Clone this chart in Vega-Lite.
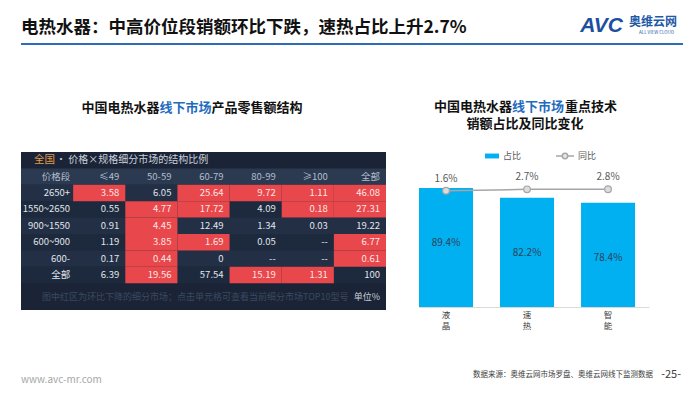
{
  "$schema": "https://vega.github.io/schema/vega-lite/v6.json",
  "background": "white",
  "padding": {"left": 20, "top": 14, "right": 0, "bottom": 0},
  "config": {
    "font": "Noto Sans CJK SC",
    "view": {"stroke": null},
    "legend": {"labelFont": "Noto Sans CJK SC", "labelFontSize": 9, "labelColor": "#595959"}
  },
  "datasets": {
    "rows": [
      {"row": "title"}, {"row": "header"}, {"row": "2650+"}, {"row": "1550~2650"},
      {"row": "900~1550"}, {"row": "600~900"}, {"row": "600-"}, {"row": "全部"}
    ],
    "cells": [
      {"row": "header", "col": "价格段", "value": "价格段", "down": false},
      {"row": "header", "col": "≤49", "value": "≤49", "down": false},
      {"row": "header", "col": "50-59", "value": "50-59", "down": false},
      {"row": "header", "col": "60-79", "value": "60-79", "down": false},
      {"row": "header", "col": "80-99", "value": "80-99", "down": false},
      {"row": "header", "col": "≥100", "value": "≥100", "down": false},
      {"row": "header", "col": "全部", "value": "全部", "down": false},
      {"row": "2650+", "col": "价格段", "value": "2650+", "down": false},
      {"row": "2650+", "col": "≤49", "value": "3.58", "down": true},
      {"row": "2650+", "col": "50-59", "value": "6.05", "down": false},
      {"row": "2650+", "col": "60-79", "value": "25.64", "down": true},
      {"row": "2650+", "col": "80-99", "value": "9.72", "down": true},
      {"row": "2650+", "col": "≥100", "value": "1.11", "down": true},
      {"row": "2650+", "col": "全部", "value": "46.08", "down": true},
      {"row": "1550~2650", "col": "价格段", "value": "1550~2650", "down": false},
      {"row": "1550~2650", "col": "≤49", "value": "0.55", "down": false},
      {"row": "1550~2650", "col": "50-59", "value": "4.77", "down": true},
      {"row": "1550~2650", "col": "60-79", "value": "17.72", "down": true},
      {"row": "1550~2650", "col": "80-99", "value": "4.09", "down": false},
      {"row": "1550~2650", "col": "≥100", "value": "0.18", "down": true},
      {"row": "1550~2650", "col": "全部", "value": "27.31", "down": true},
      {"row": "900~1550", "col": "价格段", "value": "900~1550", "down": false},
      {"row": "900~1550", "col": "≤49", "value": "0.91", "down": false},
      {"row": "900~1550", "col": "50-59", "value": "4.45", "down": true},
      {"row": "900~1550", "col": "60-79", "value": "12.49", "down": false},
      {"row": "900~1550", "col": "80-99", "value": "1.34", "down": false},
      {"row": "900~1550", "col": "≥100", "value": "0.03", "down": false},
      {"row": "900~1550", "col": "全部", "value": "19.22", "down": false},
      {"row": "600~900", "col": "价格段", "value": "600~900", "down": false},
      {"row": "600~900", "col": "≤49", "value": "1.19", "down": false},
      {"row": "600~900", "col": "50-59", "value": "3.85", "down": true},
      {"row": "600~900", "col": "60-79", "value": "1.69", "down": true},
      {"row": "600~900", "col": "80-99", "value": "0.05", "down": false},
      {"row": "600~900", "col": "≥100", "value": "--", "down": false},
      {"row": "600~900", "col": "全部", "value": "6.77", "down": true},
      {"row": "600-", "col": "价格段", "value": "600-", "down": false},
      {"row": "600-", "col": "≤49", "value": "0.17", "down": false},
      {"row": "600-", "col": "50-59", "value": "0.44", "down": true},
      {"row": "600-", "col": "60-79", "value": "0", "down": false},
      {"row": "600-", "col": "80-99", "value": "--", "down": false},
      {"row": "600-", "col": "≥100", "value": "--", "down": false},
      {"row": "600-", "col": "全部", "value": "0.61", "down": true},
      {"row": "全部", "col": "价格段", "value": "全部", "down": false},
      {"row": "全部", "col": "≤49", "value": "6.39", "down": false},
      {"row": "全部", "col": "50-59", "value": "19.56", "down": true},
      {"row": "全部", "col": "60-79", "value": "57.54", "down": false},
      {"row": "全部", "col": "80-99", "value": "15.19", "down": true},
      {"row": "全部", "col": "≥100", "value": "1.31", "down": true},
      {"row": "全部", "col": "全部", "value": "100", "down": false}
    ],
    "tech": [
      {"技术": "液晶", "占比": 0.894, "同比": 0.016},
      {"技术": "速热", "占比": 0.822, "同比": 0.027},
      {"技术": "智能", "占比": 0.784, "同比": 0.028}
    ]
  },
  "resolve": {"scale": {"fill": "independent", "stroke": "independent", "color": "independent"}, "legend": {"fill": "independent", "stroke": "independent", "color": "independent"}},
  "spacing": 39,
  "vconcat": [
    {
      "spacing": 55,
      "resolve": {"scale": {"fill": "independent", "stroke": "independent", "color": "independent"}, "legend": {"fill": "independent", "stroke": "independent", "color": "independent"}},
      "vconcat": [
        {
          "width": 662,
          "height": 30,
          "data": {"values": [{}]},
          "layer": [
            {
              "mark": {"type": "rule", "color": "#2e6db4", "strokeWidth": 2},
              "encoding": {
                "x": {"datum": 0, "type": "quantitative", "scale": {"domain": [0, 1]}, "axis": null},
                "x2": {"datum": 1},
                "y": {"datum": 0, "type": "quantitative", "scale": {"domain": [0, 1]}, "axis": null}
              }
            },
            {
              "mark": {"type": "text", "align": "left", "baseline": "middle", "fontSize": 17.5, "fontWeight": "bold", "color": "#111111"},
              "encoding": {
                "x": {"datum": 0, "type": "quantitative"},
                "y": {"datum": 0.53, "type": "quantitative"},
                "text": {"value": "电热水器：中高价位段销额环比下跌，速热占比上升2.7%"}
              }
            },
            {
              "mark": {"type": "text", "align": "right", "baseline": "middle", "fontSize": 21, "fontWeight": "bold", "fontStyle": "italic", "font": "Liberation Sans", "color": "#1c4f9d", "dx": -60},
              "encoding": {
                "x": {"datum": 1, "type": "quantitative"},
                "y": {"datum": 0.6, "type": "quantitative"},
                "text": {"value": "AVC"}
              }
            },
            {
              "mark": {"type": "text", "align": "right", "baseline": "middle", "fontSize": 12, "fontWeight": "bold", "color": "#1e5aa6", "dx": -6},
              "encoding": {
                "x": {"datum": 1, "type": "quantitative"},
                "y": {"datum": 0.75, "type": "quantitative"},
                "text": {"value": "奥维云网"}
              }
            },
            {
              "mark": {"type": "text", "align": "right", "baseline": "middle", "fontSize": 4.5, "color": "#1e5aa6", "dx": -9},
              "encoding": {
                "x": {"datum": 1, "type": "quantitative"},
                "y": {"datum": 0.38, "type": "quantitative"},
                "text": {"value": "ALL VIEW CLOUD"}
              }
            }
          ]
        },
        {
          "spacing": 32,
          "resolve": {"scale": {"fill": "independent", "stroke": "independent", "color": "independent"}, "legend": {"fill": "independent", "stroke": "independent", "color": "independent"}},
          "hconcat": [
            {
              "spacing": 22,
              "vconcat": [
                {
                  "width": 365,
                  "height": 30,
                  "data": {"values": [{}]},
                  "encoding": {"x": {"datum": 0.5, "type": "quantitative", "scale": {"domain": [0, 1]}, "axis": null}},
                  "layer": [
                    {"mark": {"type": "text", "align": "right", "baseline": "middle", "fontSize": 13, "fontWeight": "bold", "color": "#111111", "dx": -44, "dy": -7}, "encoding": {"text": {"value": "中国电热水器"}}},
                    {"mark": {"type": "text", "align": "left", "baseline": "middle", "fontSize": 13, "fontWeight": "bold", "color": "#1f6cbf", "dx": -44, "dy": -7}, "encoding": {"text": {"value": "线下市场"}}},
                    {"mark": {"type": "text", "align": "left", "baseline": "middle", "fontSize": 13, "fontWeight": "bold", "color": "#111111", "dx": 8, "dy": -7}, "encoding": {"text": {"value": "产品零售额结构"}}}
                  ]
                },
                {
                  "width": 365,
                  "height": 158,
                  "view": {"fill": "#1b2436"},
                  "data": {"name": "cells"},
                  "encoding": {
                    "y": {
                      "field": "row", "type": "nominal", "axis": null,
                      "scale": {"type": "band", "domain": ["title", "header", "2650+", "1550~2650", "900~1550", "600~900", "600-", "全部"], "paddingInner": 0, "paddingOuter": 0.817, "align": 0}
                    }
                  },
                  "layer": [
                    {
                      "data": {"name": "rows"},
                      "mark": {"type": "rect"},
                      "encoding": {
                        "fill": {
                          "condition": [
                            {"test": "datum.row === 'title'", "value": "#1b2436"},
                            {"test": "datum.row === 'header'", "value": "#2b3a51"},
                            {"test": "indexof(['2650+', '900~1550', '600-'], datum.row) >= 0", "value": "#222f44"}
                          ],
                          "value": "#1d293c"
                        }
                      }
                    },
                    {
                      "transform": [{"filter": "datum.down"}],
                      "mark": {"type": "rect", "color": "#e8474b"},
                      "encoding": {
                        "x": {"field": "col", "type": "nominal", "axis": null, "scale": {"type": "band", "domain": ["价格段", "≤49", "50-59", "60-79", "80-99", "≥100", "全部"], "paddingInner": 0, "paddingOuter": 0}}
                      }
                    },
                    {
                      "transform": [{"filter": "datum.col !== '价格段'"}],
                      "mark": {"type": "text", "align": "right", "baseline": "middle", "fontSize": 9.5, "dx": -6},
                      "encoding": {
                        "x": {"field": "col", "type": "nominal", "bandPosition": 1},
                        "text": {"field": "value", "type": "nominal"},
                        "color": {
                          "condition": [
                            {"test": "datum.down", "value": "#fde6e6"},
                            {"test": "datum.row === 'header'", "value": "#b3bdcb"}
                          ],
                          "value": "#e1e6ec"
                        }
                      }
                    },
                    {
                      "transform": [{"filter": "datum.col === '价格段'"}],
                      "mark": {"type": "text", "align": "right", "baseline": "middle", "fontSize": 9.5, "dx": -3},
                      "encoding": {
                        "x": {"field": "col", "type": "nominal", "bandPosition": 1},
                        "text": {"field": "value", "type": "nominal"},
                        "color": {
                          "condition": {"test": "datum.row === 'header'", "value": "#b3bdcb"},
                          "value": "#e1e6ec"
                        }
                      }
                    },
                    {
                      "data": {"values": [{"row": "title"}]},
                      "mark": {"type": "text", "align": "left", "baseline": "middle", "fontSize": 10.5, "color": "#e39a48", "dx": 13},
                      "encoding": {
                        "x": {"datum": "价格段", "type": "nominal", "bandPosition": 0},
                        "text": {"value": "全国"}
                      }
                    },
                    {
                      "data": {"values": [{"row": "title"}]},
                      "mark": {"type": "text", "align": "left", "baseline": "middle", "fontSize": 10, "color": "#c9d1dc", "dx": 35},
                      "encoding": {
                        "x": {"datum": "价格段", "type": "nominal", "bandPosition": 0},
                        "text": {"value": "• 价格×规格细分市场的结构比例"}
                      }
                    },
                    {
                      "data": {"values": [{"row": "全部"}]},
                      "mark": {"type": "text", "align": "left", "baseline": "middle", "fontSize": 9, "color": "#3a4961", "dx": 21, "dy": 22},
                      "encoding": {
                        "x": {"datum": "价格段", "type": "nominal", "bandPosition": 0},
                        "text": {"value": "图中红区为环比下降的细分市场；点击单元格可查看当前细分市场TOP10型号"}
                      }
                    },
                    {
                      "data": {"values": [{"row": "全部"}]},
                      "mark": {"type": "text", "align": "right", "baseline": "middle", "fontSize": 9, "color": "#c6cdd8", "dx": -6, "dy": 22},
                      "encoding": {
                        "x": {"datum": "全部", "type": "nominal", "bandPosition": 1},
                        "text": {"value": "单位%"}
                      }
                    }
                  ]
                }
              ]
            },
            {
              "spacing": 15,
              "resolve": {"scale": {"fill": "independent", "stroke": "independent", "color": "independent"}, "legend": {"fill": "independent", "stroke": "independent", "color": "independent"}},
              "vconcat": [
                {
                  "width": 230,
                  "height": 30,
                  "data": {"values": [{}]},
                  "encoding": {"x": {"datum": 0.5, "type": "quantitative", "scale": {"domain": [0, 1]}, "axis": null}},
                  "layer": [
                    {"mark": {"type": "text", "align": "right", "baseline": "middle", "fontSize": 13, "fontWeight": "bold", "color": "#111111", "dx": -22, "dy": -8.5}, "encoding": {"text": {"value": "中国电热水器"}}},
                    {"mark": {"type": "text", "align": "left", "baseline": "middle", "fontSize": 13, "fontWeight": "bold", "color": "#1f6cbf", "dx": -22, "dy": -8.5}, "encoding": {"text": {"value": "线下市场"}}},
                    {"mark": {"type": "text", "align": "left", "baseline": "middle", "fontSize": 13, "fontWeight": "bold", "color": "#111111", "dx": 31, "dy": -8.5}, "encoding": {"text": {"value": "重点技术"}}},
                    {"mark": {"type": "text", "align": "center", "baseline": "middle", "fontSize": 13, "fontWeight": "bold", "color": "#111111", "dx": -9, "dy": 9}, "encoding": {"text": {"value": "销额占比及同比变化"}}}
                  ]
                },
                {
                  "width": 230,
                  "height": 133,
                  "data": {"name": "tech"},
                  "encoding": {
                    "x": {
                      "field": "技术", "type": "nominal", "sort": null,
                      "scale": {"paddingInner": 0.333, "paddingOuter": 0.086, "align": 0},
                      "axis": {"title": null, "labelAngle": 0, "ticks": false, "domainColor": "#d9d9d9", "labelExpr": "split(datum.label, '')", "labelFontSize": 8.5, "labelColor": "#404040", "labelPadding": 3, "labelLineHeight": 11, "labelBaseline": "top"}
                    }
                  },
                  "layer": [
                    {
                      "layer": [
                        {
                          "mark": {"type": "bar"},
                          "encoding": {
                            "y": {"field": "占比", "type": "quantitative", "scale": {"domain": [0, 1]}, "axis": null},
                            "fill": {
                              "datum": "占比",
                              "scale": {"range": ["#00b0f0"]},
                              "legend": {"title": null, "orient": "none", "legendX": 65, "legendY": -26, "padding": 0, "labelOffset": 3, "symbolType": "M-1,-0.35H1V0.35H-1Z", "symbolSize": 196}
                            }
                          }
                        },
                        {
                          "mark": {"type": "text", "baseline": "middle", "fontSize": 10, "color": "#2f4058", "dy": 55},
                          "encoding": {
                            "y": {"field": "占比", "type": "quantitative"},
                            "text": {"field": "占比", "type": "quantitative", "format": ".1%"}
                          }
                        }
                      ]
                    },
                    {
                      "layer": [
                        {
                          "mark": {"type": "line", "strokeWidth": 1.5},
                          "encoding": {
                            "y": {"field": "同比", "type": "quantitative", "scale": {"domain": [-0.9, 0.148], "nice": false, "zero": false}, "axis": null},
                            "stroke": {
                              "datum": "同比",
                              "scale": {"range": ["#a6a6a6"]},
                              "legend": {"title": null, "orient": "none", "legendX": 136, "legendY": -28, "padding": 0, "labelOffset": 3, "symbolType": "M-1,0H-0.3M0.3,0A0.3,0.3,0,1,1,-0.3,0A0.3,0.3,0,1,1,0.3,0M0.3,0H1", "symbolSize": 324, "symbolFillColor": "#e8e8e8", "symbolStrokeWidth": 1.5}
                            }
                          }
                        },
                        {
                          "mark": {"type": "point", "filled": true, "fill": "#dcdcdc", "stroke": "#a6a6a6", "strokeWidth": 1.2, "size": 45, "opacity": 1},
                          "encoding": {"y": {"field": "同比", "type": "quantitative"}}
                        },
                        {
                          "mark": {"type": "text", "baseline": "middle", "fontSize": 10, "color": "#595959", "dy": -12},
                          "encoding": {
                            "y": {"field": "同比", "type": "quantitative"},
                            "text": {"field": "同比", "type": "quantitative", "format": ".1%"}
                          }
                        }
                      ]
                    }
                  ],
                  "resolve": {"scale": {"y": "independent"}}
                }
              ]
            }
          ]
        }
      ]
    },
    {
      "width": 662,
      "height": 12,
      "data": {"values": [{}]},
      "layer": [
        {
          "mark": {"type": "text", "align": "left", "baseline": "middle", "fontSize": 10, "color": "#a6a6a6", "dy": 3},
          "encoding": {"x": {"datum": 0, "type": "quantitative", "scale": {"domain": [0, 1]}, "axis": null}, "text": {"value": "www.avc-mr.com"}}
        },
        {
          "mark": {"type": "text", "align": "right", "baseline": "middle", "fontSize": 7.5, "color": "#404040", "dx": -30, "dy": -2},
          "encoding": {"x": {"datum": 1, "type": "quantitative"}, "text": {"value": "数据来源：奥维云网市场罗盘、奥维云网线下监测数据"}}
        },
        {
          "mark": {"type": "text", "align": "right", "baseline": "middle", "fontSize": 11, "color": "#404040", "dx": -2, "dy": -2},
          "encoding": {"x": {"datum": 1, "type": "quantitative"}, "text": {"value": "-25-"}}
        }
      ]
    }
  ]
}
